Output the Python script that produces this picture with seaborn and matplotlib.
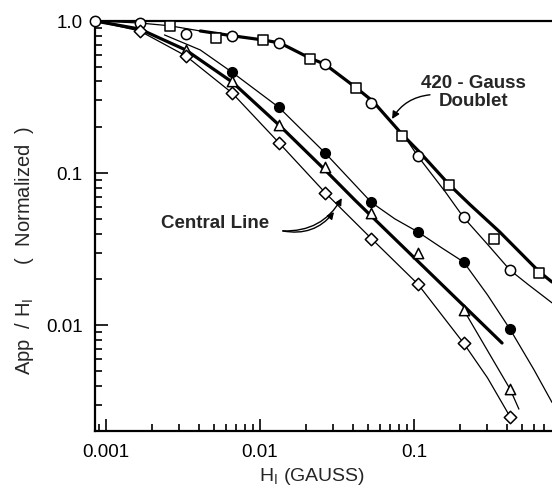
import numpy as np
import pandas as pd
import matplotlib
matplotlib.use("Agg")
from matplotlib import pyplot as plt
from matplotlib.ticker import NullFormatter
import seaborn as sns

sns.set_theme(style="ticks")
plt.rcParams['font.family'] = ['Liberation Sans', 'DejaVu Sans']

# 1. 测量点 (H1 in gauss, App/H1 normalized)
h_open = [0.00085, 0.00166, 0.0033, 0.0066, 0.0133, 0.0266, 0.053, 0.106, 0.21, 0.42]
a_open = [1.0, 0.97, 0.82, 0.80, 0.72, 0.52, 0.29, 0.129, 0.051, 0.023]
h_sq = [0.0026, 0.0052, 0.0104, 0.021, 0.042, 0.084, 0.168, 0.33, 0.65]
a_sq = [0.93, 0.77, 0.75, 0.56, 0.36, 0.175, 0.083, 0.037, 0.022]
h_fill = [0.0066, 0.0133, 0.0266, 0.053, 0.106, 0.21, 0.42]
a_fill = [0.46, 0.27, 0.135, 0.064, 0.041, 0.026, 0.0094]
h_tri = [0.0033, 0.0066, 0.0133, 0.0266, 0.053, 0.106, 0.21, 0.42]
a_tri = [0.645, 0.40, 0.207, 0.11, 0.055, 0.030, 0.0126, 0.0038]
h_dia = [0.00166, 0.0033, 0.0066, 0.0133, 0.0266, 0.053, 0.106, 0.21, 0.42]
a_dia = [0.86, 0.59, 0.336, 0.158, 0.074, 0.037, 0.0186, 0.0076, 0.0025]

# 2. 曲线
h_dbl_start = [0.00085, 0.00166, 0.0026, 0.0041]
a_dbl_start = [1.0, 0.97, 0.93, 0.86]
h_dbl = [0.0041, 0.0066, 0.0105, 0.0135, 0.0211, 0.0264, 0.0427, 0.0542, 0.0836,
         0.109, 0.169, 0.231, 0.36, 0.648, 0.787]
a_dbl = [0.86, 0.80, 0.75, 0.717, 0.57, 0.52, 0.36, 0.296, 0.18,
         0.137, 0.084, 0.062, 0.041, 0.0225, 0.0192]
h_open_tail = [0.09, 0.106, 0.16, 0.21, 0.30, 0.42, 0.55, 0.787]
a_open_tail = [0.165, 0.129, 0.075, 0.051, 0.034, 0.023, 0.0185, 0.0140]
h_fill_c = [0.0024, 0.0041, 0.0066, 0.0133, 0.0266, 0.053, 0.075, 0.106, 0.15,
            0.21, 0.30, 0.42, 0.6, 0.787]
a_fill_c = [0.81, 0.645, 0.46, 0.27, 0.135, 0.064, 0.050, 0.041, 0.0324,
            0.026, 0.0158, 0.0094, 0.0051, 0.0031]
h_tri_tail = [0.21, 0.30, 0.42, 0.48]
a_tri_tail = [0.0126, 0.0068, 0.0038, 0.0028]
h_central = [0.00085, 0.00166, 0.0033, 0.0066, 0.0133, 0.0264, 0.0414, 0.373]
a_central = [1.0, 0.885, 0.645, 0.397, 0.207, 0.105, 0.0663, 0.00762]
h_dia_c = [0.00085, 0.00166, 0.0033, 0.0066, 0.0133, 0.0266, 0.053, 0.106, 0.21, 0.30, 0.42]
a_dia_c = [1.0, 0.86, 0.59, 0.336, 0.158, 0.074, 0.037, 0.0186, 0.0076, 0.0045, 0.0025]

fig = plt.figure(figsize=(5.52, 4.94), dpi=100)
ax = fig.add_axes([95 / 552, 63 / 494, 457 / 552, 410 / 494])

thin = 0.9
thick = 2.3
curves = [
    (h_dbl_start, a_dbl_start, thin),
    (h_dbl, a_dbl, thick),
    (h_open_tail, a_open_tail, thin),
    (h_fill_c, a_fill_c, thin),
    (h_tri_tail, a_tri_tail, thin),
    (h_central, a_central, thick),
    (h_dia_c, a_dia_c, thin),
]
for hx, ay, lw in curves:
    sns.lineplot(x=hx, y=ay, sort=False, estimator=None, color="black",
                 linewidth=lw, ax=ax, zorder=2)

pts = [
    (h_open, a_open, "o", "white", 55),
    (h_sq, a_sq, "s", "white", 50),
    (h_fill, a_fill, "o", "black", 48),
    (h_tri, a_tri, "^", "white", 55),
    (h_dia, a_dia, "D", "white", 40),
]
for hx, ay, m, fc, s in pts:
    sns.scatterplot(x=hx, y=ay, marker=m, color=fc, edgecolor="black",
                    linewidth=1.1, s=s, ax=ax, zorder=3, clip_on=False)

ax.set(xscale="log", yscale="log")
ax.set_xlim(0.00085, 0.787)
ax.set_ylim(0.00201, 1.0)
ax.set_xticks([0.001, 0.01, 0.1], labels=["0.001", "0.01", "0.1"])
ax.set_yticks([0.01, 0.1, 1.0], labels=["0.01", "0.1", "1.0"])
ax.xaxis.set_minor_formatter(NullFormatter())
ax.yaxis.set_minor_formatter(NullFormatter())
ax.tick_params(which="both", direction="in", top=False, right=False,
               labelsize=13.5, width=1.2, colors="black")
ax.tick_params(which="major", length=9, pad=9)
ax.tick_params(which="minor", length=5)
ax.spines["right"].set_visible(False)
for sp in ["left", "bottom", "top"]:
    ax.spines[sp].set_linewidth(1.6)
    ax.spines[sp].set_color("black")

ax.set_xlabel(r"H$_{\mathregular{I}}$ (GAUSS)", fontsize=14)
ax.xaxis.set_label_coords(0.475, -0.085)
ax.set_ylabel(r"App  / H$_{\mathregular{I}}$      (  Normalized  )", fontsize=14.5)
ax.yaxis.set_label_coords(-0.13, 0.44)

# 3. 标注
ax.text(0.829, 0.826, "420 - Gauss\nDoublet", transform=ax.transAxes,
        ha="center", va="center", fontsize=13.5, fontweight="bold",
        linespacing=1.05)
ax.annotate("", xy=(0.650, 0.761), xytext=(0.733, 0.820),
            xycoords="axes fraction", textcoords="axes fraction",
            arrowprops=dict(arrowstyle="-|>", color="black", lw=1.0,
                            mutation_scale=11, shrinkA=0, shrinkB=0,
                            connectionstyle="arc3,rad=0.25"))
ax.text(0.263, 0.505, "Central Line", transform=ax.transAxes,
        ha="center", va="center", fontsize=13.5, fontweight="bold")
for tip in [(0.540, 0.568), (0.523, 0.534)]:
    ax.annotate("", xy=tip, xytext=(0.411, 0.488),
                xycoords="axes fraction", textcoords="axes fraction",
                arrowprops=dict(arrowstyle="-|>", color="black", lw=1.0,
                                mutation_scale=10, shrinkA=0, shrinkB=0,
                                connectionstyle="arc3,rad=0.3"))

fig.savefig("out.png", dpi=100)
